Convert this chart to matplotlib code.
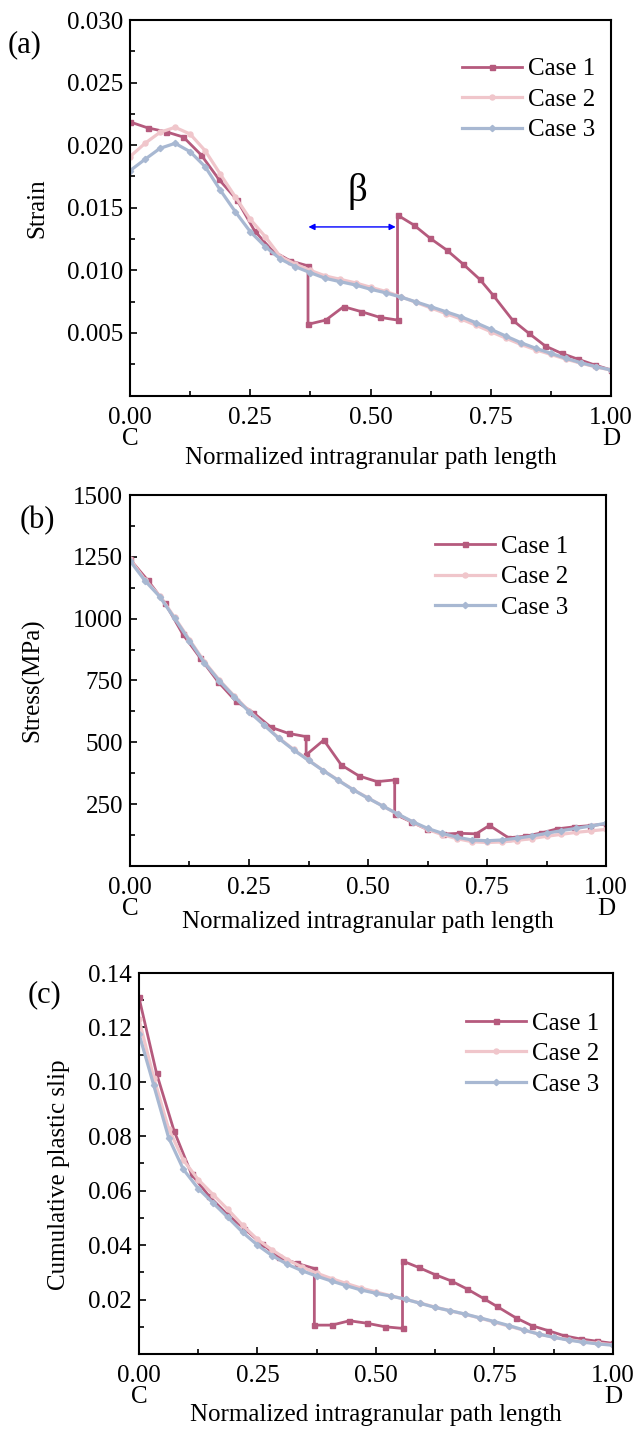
import numpy as np
import matplotlib
matplotlib.use("Agg")
import matplotlib.pyplot as plt
from matplotlib.ticker import MultipleLocator, FuncFormatter

plt.rcParams['font.family'] = ['Liberation Serif', 'DejaVu Serif']

# ---- data ----
# Case 1: coarser path sampling, with two jumps (duplicate x) at 0.370 and 0.556
x_case1 = [0.000, 0.037, 0.074, 0.111, 0.148, 0.185, 0.222, 0.259, 0.296, 0.333,
           0.370, 0.370, 0.407, 0.444, 0.481, 0.519, 0.556, 0.556, 0.590, 0.624,
           0.658, 0.692, 0.727, 0.755, 0.795, 0.829, 0.863, 0.897, 0.932, 0.966, 1.000]
# Case 2 / Case 3: 33 points along the path
x_case23 = list(np.linspace(0, 1, 33))

strain_case1 = [0.02186, 0.02138, 0.02108, 0.02065, 0.01922, 0.01726, 0.01565, 0.01316, 0.01156, 0.01076,
                0.01036, 0.00569, 0.00603, 0.00710, 0.00670, 0.00625, 0.00603, 0.01442, 0.01362, 0.01256,
                0.01163, 0.01051, 0.00928, 0.00800, 0.00603, 0.00497, 0.00396, 0.00337, 0.00289, 0.00244, 0.00204]
strain_case2 = [0.01908, 0.02015, 0.02103, 0.02143, 0.02089, 0.01956, 0.01770, 0.01588, 0.01408, 0.01269,
                0.01110, 0.01050, 0.01000, 0.00955, 0.00928, 0.00900, 0.00865, 0.00832, 0.00790, 0.00745,
                0.00700, 0.00655, 0.00612, 0.00562, 0.00510, 0.00458, 0.00408, 0.00365, 0.00328, 0.00290,
                0.00258, 0.00228, 0.00203]
strain_case3 = [0.01796, 0.01887, 0.01975, 0.02015, 0.01948, 0.01828, 0.01642, 0.01469, 0.01309, 0.01189,
                0.01091, 0.01029, 0.00981, 0.00936, 0.00909, 0.00883, 0.00849, 0.00821, 0.00787, 0.00749,
                0.00710, 0.00670, 0.00630, 0.00582, 0.00529, 0.00475, 0.00422, 0.00377, 0.00337, 0.00297,
                0.00262, 0.00230, 0.00204]

stress_case1 = [1240, 1156, 1062, 937, 840, 745, 667, 620, 561, 536,
                523, 449, 509, 408, 364, 341, 348, 210, 179, 148,
                129, 132, 130, 164, 114, 120, 133, 150, 158, 163, 170]
stress_case2 = [1240, 1158, 1092, 1005, 915, 826, 752, 688, 627, 572,
                518, 471, 428, 386, 347, 309, 275, 242, 209, 177,
                148, 126, 110, 98, 95, 97, 103, 111, 120, 128,
                136, 142, 148]
stress_case3 = [1234, 1154, 1089, 1001, 911, 822, 749, 685, 624, 570,
                516, 469, 427, 385, 346, 308, 274, 242, 210, 179,
                152, 132, 116, 105, 102, 105, 112, 121, 132, 143,
                152, 162, 173]

slip_case1 = [0.1310, 0.1032, 0.0820, 0.0660, 0.0580, 0.0515, 0.0461, 0.0405, 0.0355, 0.0333,
              0.0314, 0.0106, 0.0106, 0.0122, 0.0113, 0.0100, 0.0094, 0.0342, 0.0318, 0.0292,
              0.0269, 0.0239, 0.0204, 0.0175, 0.0133, 0.0104, 0.0086, 0.0067, 0.0055, 0.0047, 0.0039]
slip_case2 = [0.1230, 0.1015, 0.0828, 0.0712, 0.0641, 0.0586, 0.0531, 0.0473, 0.0421, 0.0382,
              0.0347, 0.0320, 0.0297, 0.0277, 0.0259, 0.0242, 0.0228, 0.0214, 0.0201, 0.0187,
              0.0172, 0.0159, 0.0146, 0.0132, 0.0117, 0.0102, 0.0087, 0.0073, 0.0062, 0.0053,
              0.0045, 0.0039, 0.0034]
slip_case3 = [0.1177, 0.0987, 0.0795, 0.0678, 0.0608, 0.0555, 0.0502, 0.0447, 0.0400, 0.0361,
              0.0330, 0.0306, 0.0286, 0.0268, 0.0251, 0.0235, 0.0223, 0.0213, 0.0201, 0.0186,
              0.0171, 0.0159, 0.0147, 0.0133, 0.0119, 0.0104, 0.0088, 0.0073, 0.0061, 0.0051,
              0.0043, 0.0037, 0.0032]

labels = ['Case 1', 'Case 2', 'Case 3']
colors = ['#B55A7D', '#F0C6CB', '#A8B8D2']
markers = ['s', 'o', 'D']
xlabel = 'Normalized intragranular path length'
FS = 18


def style_axis(ax, ylim, ymajor, yminor, yfmt, ylabel, ylab_x, ylab_y, xlab_y):
    ax.set_xlim(0, 1)
    ax.set_ylim(*ylim)
    ax.xaxis.set_major_locator(MultipleLocator(0.25))
    ax.xaxis.set_minor_locator(MultipleLocator(0.125))
    ax.yaxis.set_major_locator(MultipleLocator(ymajor))
    ax.yaxis.set_minor_locator(MultipleLocator(yminor))
    ax.xaxis.set_major_formatter(FuncFormatter(lambda v, p: '%.2f' % v))
    ax.yaxis.set_major_formatter(FuncFormatter(lambda v, p: '' if abs(v) < 1e-12 else yfmt % v))
    ax.tick_params(which='both', direction='in', top=False, right=False, labelsize=FS, width=1.2)
    ax.tick_params(which='major', length=5, pad=5)
    ax.tick_params(axis='x', which='major', pad=8)
    ax.tick_params(which='minor', length=3.5)
    for s in ax.spines.values():
        s.set_linewidth(1.5)
    ax.set_ylabel(ylabel, fontsize=FS)
    ax.yaxis.set_label_coords(ylab_x, ylab_y)
    ax.set_xlabel(xlabel, fontsize=FS, va='center')
    ax.xaxis.set_label_coords(0.5, xlab_y)
    ax.annotate('C', xy=(0, 0), xycoords='axes fraction', xytext=(0, -31),
                textcoords='offset points', ha='center', va='center', fontsize=FS)
    ax.annotate('D', xy=(1, 0), xycoords='axes fraction', xytext=(0, -31),
                textcoords='offset points', ha='center', va='center', fontsize=FS)


def draw(ax, ys):
    xs = [x_case1, x_case23, x_case23]
    for x, y, lab, c, m in zip(xs, ys, labels, colors, markers):
        ms = 3.6 if m != 'D' else 3.2
        lw = 2.0 if m == 's' else 2.3
        ax.plot(x, y, color=c, marker=m, markersize=ms, lw=lw, label=lab)


def add_legend(ax, anchor):
    ax.legend(loc='upper left', bbox_to_anchor=anchor, frameon=False, fontsize=FS,
              handlelength=2.4, handletextpad=0.25, labelspacing=0.32, borderpad=0, borderaxespad=0)


fig = plt.figure(figsize=(6.34, 14.29), dpi=100)

# (a) strain
ax1 = fig.add_axes([0.205, 0.7232, 0.759, 0.2628])
draw(ax1, [strain_case1, strain_case2, strain_case3])
style_axis(ax1, (0, 0.030), 0.005, 0.0025, '%.3f', 'Strain', -0.17, 0.5, -0.166)
ax1.annotate('', xy=(0.365, 0.01347), xytext=(0.558, 0.01347),
             arrowprops=dict(arrowstyle='<|-|>', color='blue', lw=1.0, mutation_scale=9))
ax1.text(0.473, 0.0163, 'β', fontsize=28, ha='center', va='center')
add_legend(ax1, (0.69, 0.899))

# (b) stress
ax2 = fig.add_axes([0.205, 0.394, 0.751, 0.2596])
draw(ax2, [stress_case1, stress_case2, stress_case3])
style_axis(ax2, (0, 1500), 250, 125, '%d', 'Stress(MPa)', -0.179, 0.5, -0.151)
add_legend(ax2, (0.64, 0.891))

# (c) cumulative plastic slip
ax3 = fig.add_axes([0.2192, 0.0525, 0.7476, 0.2666])
draw(ax3, [slip_case1, slip_case2, slip_case3])
style_axis(ax3, (0, 0.14), 0.02, 0.01, '%.2f', 'Cumulative plastic slip', -0.146, 0.47, -0.160)
add_legend(ax3, (0.69, 0.897))

fig.text(8 / 634, 1 - 45 / 1429, '(a)', fontsize=22, va='center', ha='left')
fig.text(20 / 634, 1 - 521 / 1429, '(b)', fontsize=22, va='center', ha='left')
fig.text(28 / 634, 1 - 995 / 1429, '(c)', fontsize=22, va='center', ha='left')

fig.savefig('out.png', dpi=100)
